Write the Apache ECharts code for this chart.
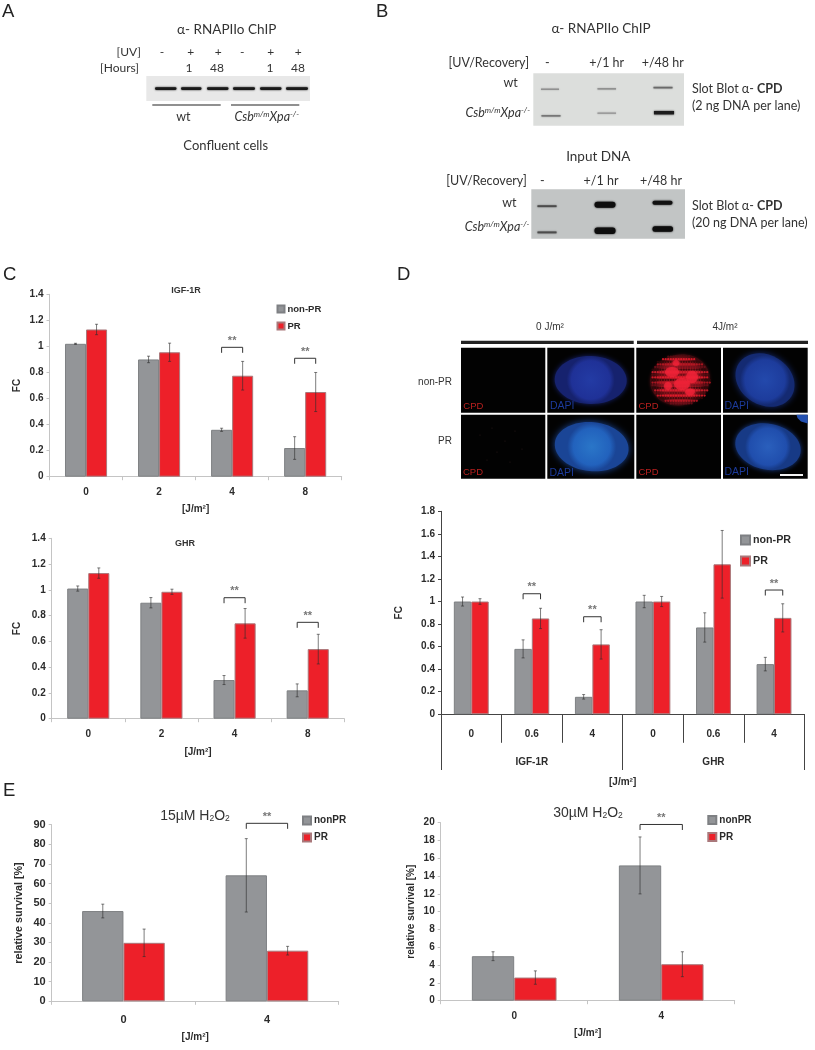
<!DOCTYPE html>
<html><head><meta charset="utf-8">
<style>html,body{margin:0;padding:0;background:#fff}#c{width:815px;height:1050px}</style>
<script src="https://cdn.jsdelivr.net/npm/echarts@6/dist/echarts.min.js"></script>
</head><body><div id="c"></div>
<script>
// ---- data ----
const doseC = ['0','2','4','8'];
const igfNon = [1.02,0.90,0.36,0.22];
const igfNonErr = [0.004,0.025,0.012,0.087];
const igfPr = [1.13,0.955,0.775,0.65];
const igfPrErr = [0.04,0.07,0.11,0.15];
const igfSig = [[2,0.993],[3,0.909]];

const ghrNon = [1.01,0.90,0.30,0.22];
const ghrNonErr = [0.02,0.04,0.035,0.05];
const ghrPr = [1.13,0.985,0.74,0.54];
const ghrPrErr = [0.04,0.02,0.115,0.115];
const ghrSig = [[2,0.939],[3,0.748]];

const doseD = ['0','0.6','4','0','0.6','4'];
const genesD = ['IGF-1R','GHR'];
const dNon = [1,0.58,0.155,1,0.77,0.445];
const dNonErr = [0.04,0.08,0.02,0.055,0.13,0.06];
const dPr = [1,0.85,0.62,1,1.33,0.855];
const dPrErr = [0.025,0.09,0.13,0.045,0.30,0.125];
const dSig = [[1,1.069],[2,0.865],[5,1.102]];

const doseE = ['0','4'];
const e15Non = [46,64.2];
const e15NonErr = [3.5,18.7];
const e15Pr = [29.8,25.8];
const e15PrErr = [7,2.2];
const e15Sig = [[1,90.7]];
const e30Non = [5,15.2];
const e30NonErr = [0.5,3.2];
const e30Pr = [2.6,4.1];
const e30PrErr = [0.75,1.4];
const e30Sig = [[1,19.8]];

// ---- style ----
const GRAY='#939598', RED='#ed2029', AR='"Liberation Sans",Arial,sans-serif', LA='Lato,"Open Sans",sans-serif';
const RATIO=0.288;

function barSeries(name,vals,idx,fill,border){
  return {type:'bar',name,data:vals,xAxisIndex:idx.x,yAxisIndex:idx.y,barWidth:(RATIO*100)+'%',barGap:0,
    itemStyle:{color:fill,borderColor:border,borderWidth:1},z:2,animation:false};
}
function errSeries(vals,errs,side,idx){
  return {type:'custom',name:'err',xAxisIndex:idx.x,yAxisIndex:idx.y,z:5,clip:false,silent:true,animation:false,
    data:vals.map((v,i)=>[i,v,errs[i]]),
    renderItem(p,api){
      const i=api.value(0),v=api.value(1),e=api.value(2);
      const off=side*api.size([1,0])[0]*RATIO/2;
      const a=api.coord([i,v+e]),b=api.coord([i,v-e]);
      const x=a[0]+off;
      const st={stroke:'rgba(45,45,45,0.62)',lineWidth:1,fill:null};
      return {type:'group',children:[
        {type:'line',shape:{x1:x,y1:a[1],x2:x,y2:b[1]},style:st},
        {type:'line',shape:{x1:x-1.5,y1:a[1],x2:x+1.5,y2:a[1]},style:st},
        {type:'line',shape:{x1:x-1.5,y1:b[1],x2:x+1.5,y2:b[1]},style:st}
      ]};
    }};
}
function sigSeries(sig,idx){
  return {type:'custom',name:'sig',xAxisIndex:idx.x,yAxisIndex:idx.y,z:6,clip:false,silent:true,animation:false,
    data:sig,
    renderItem(p,api){
      const c=api.coord([api.value(0),api.value(1)]);
      const off=api.size([1,0])[0]*RATIO/2;
      const l=c[0]-off,r=c[0]+off,y=c[1];
      return {type:'group',children:[
        {type:'polyline',shape:{points:[[l,y+5.5],[l,y],[r,y],[r,y+5.5]]},style:{stroke:'#333',lineWidth:1,fill:null}},
        {type:'text',style:{text:'**',x:c[0],y:y-1,align:'center',verticalAlign:'bottom',fontFamily:AR,fontSize:11,fontWeight:'bold',fill:'#777'}}
      ]};
    }};
}
const panels=[
 {g:{left:49.5,top:294.3,width:292.2,height:182.4},cat:doseC,max:1.4,step:0.2,name:['non-PR','PR'],non:igfNon,nonE:igfNonErr,pr:igfPr,prE:igfPrErr,sig:igfSig,line:'#c4c4c4',fs:10,yName:'FC',yGap:27,xName:'[J/m²]',xGap:28,yFs:10,lab:11},
 {g:{left:51.7,top:538.3,width:292.6,height:180.4},cat:doseC,max:1.4,step:0.2,name:['non-PR','PR'],non:ghrNon,nonE:ghrNonErr,pr:ghrPr,prE:ghrPrErr,sig:ghrSig,line:'#c4c4c4',fs:10,yName:'FC',yGap:29,xName:'[J/m²]',xGap:29,yFs:10,lab:11},
 {g:{left:441,top:511.3,width:363.3,height:203},cat:doseD,max:1.8,step:0.2,name:['non-PR','PR'],non:dNon,nonE:dNonErr,pr:dPr,prE:dPrErr,sig:dSig,line:'#444',fs:10,yName:'FC',yGap:37,xName:'',xGap:0,yFs:10,lab:15},
 {g:{left:51.7,top:824.7,width:287,height:176.6},cat:doseE,max:90,step:10,name:['nonPR','PR'],non:e15Non,nonE:e15NonErr,pr:e15Pr,prE:e15PrErr,sig:e15Sig,line:'#c4c4c4',fs:11,yName:'relative survival [%]',yGap:27,xName:'[J/m²]',xGap:31,yFs:10.8,lab:13},
 {g:{left:440.7,top:822.7,width:294,height:178},cat:doseE,max:20,step:2,name:['nonPR','PR'],non:e30Non,nonE:e30NonErr,pr:e30Pr,prE:e30PrErr,sig:e30Sig,line:'#c4c4c4',fs:10,yName:'relative survival [%]',yGap:24,xName:'[J/m²]',xGap:28,yFs:10,lab:11}
];
const legends=[
 {left:276.5,top:304,w:7,gap:7,fs:9.5,names:['non-PR','PR']},
 null,
 {left:740,top:534.5,w:9,gap:10,fs:10.7,names:['non-PR','PR']},
 {left:302,top:815.5,w:8,gap:7,fs:10,names:['nonPR','PR']},
 {left:707.3,top:815,w:8,gap:7,fs:10,names:['nonPR','PR']}
].filter(Boolean);

const grid=[],xAxis=[],yAxis=[],series=[];
panels.forEach((p,i)=>{
  grid.push(Object.assign({containLabel:false},p.g));
  const idx={x:xAxis.length,y:yAxis.length};
  const dark=i===2;
  xAxis.push({type:'category',gridIndex:i,data:p.cat,
    axisLine:{show:true,lineStyle:{color:p.line,width:1}},
    axisTick:{show:true,length:dark?28.5:3.5,lineStyle:{color:p.line}},
    axisLabel:{interval:0,margin:p.lab,fontFamily:AR,fontWeight:'bold',fontSize:p.fs,color:'#2b2b2b'},
    name:p.xName,nameLocation:'middle',nameGap:p.xGap,
    nameTextStyle:{fontFamily:AR,fontWeight:'bold',fontSize:10,color:'#2b2b2b'}});
  yAxis.push({type:'value',gridIndex:i,min:0,max:p.max,interval:p.step,splitLine:{show:false},
    axisLine:{show:true,lineStyle:{color:p.line}},
    axisTick:{show:true,length:3,lineStyle:{color:p.line}},
    axisLabel:{margin:6,fontFamily:AR,fontWeight:'bold',fontSize:p.fs,color:'#2b2b2b'},
    name:p.yName,nameLocation:'middle',nameGap:p.yGap,nameRotate:90,
    nameTextStyle:{fontFamily:AR,fontWeight:'bold',fontSize:p.yFs,color:'#2b2b2b'}});
  series.push(barSeries(p.name[0],p.non,idx,GRAY,'#7e8083'));
  series.push(barSeries(p.name[1],p.pr,idx,RED,'#a9787b'));
  series.push(errSeries(p.non,p.nonE,-1,idx));
  series.push(errSeries(p.pr,p.prE,1,idx));
  series.push(sigSeries(p.sig,idx));
});
// gene level of the multi-level axis in panel D
xAxis.push({type:'category',gridIndex:2,position:'bottom',data:genesD,
  axisLine:{show:true,lineStyle:{color:'#444'}},
  axisTick:{show:true,length:55.7,lineStyle:{color:'#444'}},
  axisLabel:{interval:0,margin:43,fontFamily:AR,fontWeight:'bold',fontSize:10,color:'#2b2b2b'},
  name:'[J/m²]',nameLocation:'middle',nameGap:63,
  nameTextStyle:{fontFamily:AR,fontWeight:'bold',fontSize:10,color:'#2b2b2b'}});

// ---- drawn (non-data) pictures and labels ----
const gfx=[];
function T(text,x,y,o={}){
  gfx.push({type:'text',x,y,z:o.z||20,silent:true,style:Object.assign({text,align:o.a||'left',verticalAlign:'middle',
    fontFamily:o.f||LA,fontSize:o.s||13,fontWeight:o.w||'normal',fontStyle:o.st||'normal',fill:o.c||'#333',rich:o.rich},{})});
}
function R(x,y,w,h,fill,o={}){
  gfx.push({type:'rect',z:o.z||10,silent:true,shape:{x,y,width:w,height:h,r:o.r||0},
    style:{fill,shadowBlur:o.b||0,shadowColor:o.b?fill:'transparent'}});
}
function E(cx,cy,rx,ry,rot,stops,blur,shadow){
  gfx.push({type:'ellipse',z:12,silent:true,x:cx,y:cy,rotation:rot,shape:{cx:0,cy:0,rx,ry},
    style:{fill:{type:'radial',x:0.5,y:0.5,r:0.5,colorStops:stops},shadowBlur:blur,shadowColor:shadow}});
}
// panel letters
[['A',2,12],['B',376,12],['C',3,275],['D',397,275],['E',3,791]].forEach(l=>T(l[0],l[1],l[2],{f:AR,s:18.5,c:'#222'}));

const csb={i:{fontFamily:LA,fontStyle:'italic',fontSize:12.5,fill:'#333'},
           s:{fontFamily:LA,fontStyle:'italic',fontSize:8,fill:'#333',verticalAlign:'top'}};
const CSB='{i|Csb}{s|m/m}{i|Xpa}{s|-/-}';
const slot={n:{fontFamily:LA,fontSize:12.5,fill:'#333'},b:{fontFamily:LA,fontSize:12.5,fontWeight:'bold',fill:'#333'}};

// panel A
T('α- RNAPIIo ChIP',226.7,30,{a:'center',s:13.5});
T('[UV]',141,52,{a:'right',s:12});T('[Hours]',139,68.5,{a:'right',s:12});
[[162,'-'],[190.7,'+'],[218.3,'+'],[242.3,'-'],[270.7,'+'],[298.3,'+']].forEach(m=>T(m[1],m[0],52,{a:'center',s:12}));
[[189,'1'],[217,'48'],[270,'1'],[298,'48']].forEach(m=>T(m[1],m[0],68.5,{a:'center',s:12}));
R(146.3,76,163.7,25,'#e8e8e8');
[[155,21.5],[181,20.5],[207,21.5],[233,22],[260,21.5],[286,22]].forEach(b=>R(b[0],87.3,b[1],2.6,'#1a1a1a',{b:2,r:1.3,z:11}));
R(152.3,104.5,68.4,1,'#222');R(231,104.5,68.3,1,'#222');
T('wt',183.3,117.3,{a:'center',s:12.5});
T(CSB,266.7,117,{a:'center',rich:csb});
T('Confluent cells',225.7,145.5,{a:'center',s:13});

// panel B
T('α- RNAPIIo ChIP',601,28.3,{a:'center',s:13.5});
T('[UV/Recovery]',529,63.3,{a:'right',s:12.5});
T('-',547.3,63,{a:'center',s:12.5});T('+/1 hr',606.7,63,{a:'center',s:12.5});T('+/48 hr',662.7,63,{a:'center',s:12.5});
R(533.3,73.3,150.7,52.4,'#dcdedc');
R(541,88.6,18,1.3,'#8d8d8d',{b:1.5,z:11});R(597.5,88.2,18.5,1.3,'#8a8a8a',{b:1.5,z:11});R(653.5,86.8,19,1.6,'#6a6a6a',{b:1.5,z:11});
R(541.5,115,19,1.6,'#777',{b:1.5,z:11});R(597.5,112.5,18.5,1.4,'#9a9a9a',{b:1.5,z:11});R(654,111,20,3.4,'#1c1c1c',{b:2,z:11});
T('wt',510.7,83.3,{a:'center',s:12.5});T(CSB,530,113.3,{a:'right',rich:csb});
T('{n|Slot Blot α- }{b|CPD}',692,89,{rich:slot});T('(2 ng DNA per lane)',692,105.7,{s:12.5});
T('Input DNA',598.3,156.7,{a:'center',s:13.5});
T('[UV/Recovery]',526.7,181,{a:'right',s:12.5});
T('-',542.3,181,{a:'center',s:12.5});T('+/1 hr',601,181,{a:'center',s:12.5});T('+/48 hr',661,181,{a:'center',s:12.5});
R(531.3,189.3,153.7,49.4,'#c2c5c5');
R(537.5,205.3,19,1.8,'#4c4c4c',{b:1.5,z:11});R(594.5,201.7,21,6,'#0e0e0e',{b:2,r:3,z:11});R(652.5,200.8,20,4,'#111',{b:2,r:2,z:11});
R(537.5,231.5,19,1.8,'#4c4c4c',{b:1.5,z:11});R(594.5,227.5,21,6.5,'#0e0e0e',{b:2,r:3,z:11});R(652.5,226.2,20.5,5.5,'#0e0e0e',{b:2,r:2.5,z:11});
T('wt',509.3,202.7,{a:'center',s:12.5});T(CSB,529.3,226.7,{a:'right',rich:csb});
T('{n|Slot Blot α- }{b|CPD}',692,206,{rich:slot});T('(20 ng DNA per lane)',692,222.7,{s:12.5});

// chart titles
T('IGF-1R',186,290.7,{a:'center',f:AR,s:9,w:'bold',c:'#333'});
T('GHR',185,544,{a:'center',f:AR,s:9,w:'bold',c:'#333'});
const h2={n:{fontFamily:AR,fontSize:14,fill:'#333'},u:{fontFamily:AR,fontSize:8.5,fill:'#333',verticalAlign:'bottom'}};
T('{n|15µM H}{u|2}{n|O}{u|2}',195,815.7,{a:'center',rich:h2});
T('{n|30µM H}{u|2}{n|O}{u|2}',588,813.3,{a:'center',rich:h2});

// panel D micrographs
T('0 J/m²',550,327,{a:'center',f:AR,s:10});T('4J/m²',725,327,{a:'center',f:AR,s:10});
R(461,340.7,172.7,3.2,'#222');R(637,340.7,171,3.2,'#222');
T('non-PR',452,382.7,{a:'right',f:AR,s:10});T('PR',452,441.7,{a:'right',f:AR,s:10});
const colX=[[461,84.3],[547.3,87],[636.3,84.7],[723,84.7]],rowY=[[347.7,65],[414.7,64]];
rowY.forEach(r=>colX.forEach(c=>R(c[0],r[0],c[1],r[1],'#020202',{z:11})));
E(590.7,380,36,24,-0.03,[{offset:0,color:'#233ba4'},{offset:0.8,color:'#1f3197'},{offset:1,color:'#16226e'}],5,'#16226e');
E(765,380,31,25,-0.55,[{offset:0,color:'#2349ac'},{offset:0.8,color:'#1d3c9c'},{offset:1,color:'#142a72'}],6,'#142a72');
E(591.7,446.7,37,24.5,-0.1,[{offset:0,color:'#2a76c8'},{offset:0.75,color:'#2262bd'},{offset:1,color:'#1a4596'}],7,'#1a4596');
E(768,446.7,33,23,-0.2,[{offset:0,color:'#2a5fbc'},{offset:0.8,color:'#204ead'},{offset:1,color:'#173a86'}],5,'#173a86');
gfx.push({type:'polygon',z:12,silent:true,shape:{points:[[796.5,414.7],[807.7,414.7],[807.7,423.5],[801,421.5],[797.5,418]]},style:{fill:'#2350b0'}});
// CPD-stained nucleus
E(680,380,30,25.5,0.18,[{offset:0,color:'#b81826'},{offset:0.8,color:'#8e141e'},{offset:1,color:'#3c0a0e'}],3,'#3c0a0e');
const speck=['#2a0608','#e02030','#5a0c12','#f01c2c','#320708','#c01824','#70101a'];
for(let gx=650;gx<=710;gx+=2.6){for(let gy=354;gy<=406;gy+=2.6){
  const dx=gx-680,dy=gy-380,ca=Math.cos(0.18),sa=Math.sin(0.18);
  const u=(dx*ca+dy*sa)/30,v=(-dx*sa+dy*ca)/25.5;
  if(u*u+v*v>1)continue;
  const k=(Math.round(gx*5)*7+Math.round(gy*5)*13)%speck.length;
  gfx.push({type:'circle',z:13,silent:true,shape:{cx:gx,cy:gy,r:1.15},style:{fill:speck[k],opacity:0.8}});
}}
[[672,372,7,5],[682,384,8,6],[692,377,6,6],[668,386,4,4],[690,392,5,3.5],[676,363,3.5,3]].forEach(b=>
  gfx.push({type:'ellipse',z:14,silent:true,shape:{cx:b[0],cy:b[1],rx:b[2],ry:b[3]},style:{fill:'#f02238',opacity:0.72,shadowBlur:3,shadowColor:'#f02238'}}));
// faint background dots in the PR 0 J/m2 CPD frame
[[480,435],[492,428],[505,441],[515,431],[497,452],[522,449],[487,460],[510,462]].forEach(d=>
  gfx.push({type:'circle',z:12,silent:true,shape:{cx:d[0],cy:d[1],r:0.6},style:{fill:'#2a1a1a'}}));
const CP={a:'left',f:AR,s:9.5,c:'#b8201f'},DA={a:'left',f:AR,s:10.5,c:'#1c3a9a'};
T('CPD',463.3,406,CP);T('DAPI',550,406.5,DA);T('CPD',638.5,406,CP);T('DAPI',724.5,406.5,DA);
T('CPD',463,472,CP);T('DAPI',549.5,473,DA);T('CPD',638.5,472.5,CP);T('DAPI',724.5,472,DA);
R(780,474,23,2,'#f4f4f4',{z:15});

const chart=echarts.init(document.getElementById('c'),null,{renderer:'canvas'});
chart.setOption({animation:false,backgroundColor:'#fff',grid,xAxis,yAxis,series,
  legend:legends.map(l=>({orient:'vertical',left:l.left,top:l.top,itemWidth:l.w,itemHeight:l.w,itemGap:l.gap,
    padding:0,data:l.names,selectedMode:false,icon:'rect',
    textStyle:{fontFamily:AR,fontWeight:'bold',fontSize:l.fs,color:'#2b2b2b',padding:[0,0,0,-2]}})),
  tooltip:{show:false},graphic:{elements:gfx}});
</script></body></html>
